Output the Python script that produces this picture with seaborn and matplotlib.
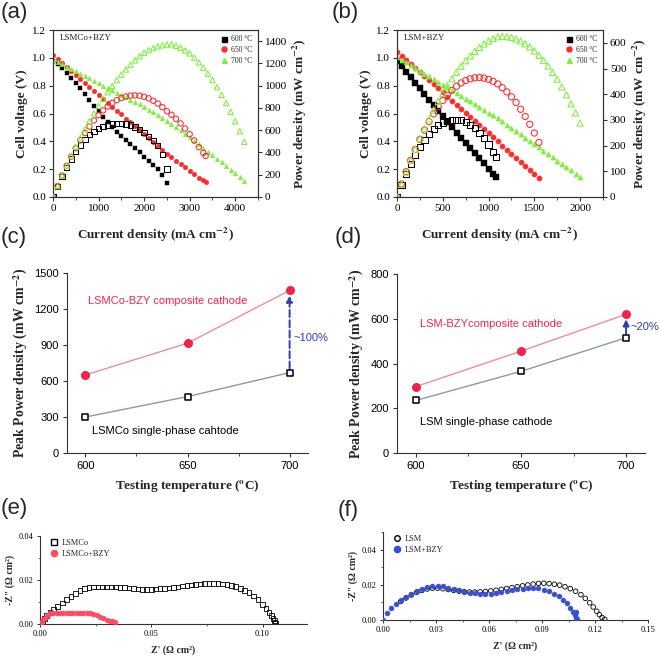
import matplotlib
matplotlib.use("Agg")
import numpy as np
import matplotlib.pyplot as plt
import seaborn as sns
from matplotlib.ticker import MultipleLocator, FormatStrFormatter
from matplotlib.lines import Line2D

# ---------------- data ----------------
# (a) LSMCo+BZY  current (mA cm-2) / voltage (V)
I600a = list(range(0, 2501, 100))
V600a = [0.98, 0.955, 0.925, 0.89, 0.855, 0.82, 0.78, 0.74, 0.70, 0.655,
         0.615, 0.575, 0.54, 0.505, 0.47, 0.44, 0.41, 0.38, 0.35, 0.32,
         0.29, 0.26, 0.23, 0.20, 0.16, 0.10]
I650a = list(range(0, 3301, 100)) + [3350]
V650a = [1.020, 0.992, 0.963, 0.935, 0.906, 0.878, 0.849, 0.821, 0.792, 0.764,
         0.735, 0.707, 0.678, 0.650, 0.621, 0.593, 0.564, 0.536, 0.507, 0.479,
         0.450, 0.422, 0.393, 0.365, 0.336, 0.308, 0.284, 0.260, 0.236, 0.212,
         0.188, 0.164, 0.140, 0.120, 0.110]
I700a = list(range(0, 4201, 100))
V700a = [0.988, 0.971, 0.954, 0.937, 0.920, 0.903, 0.886, 0.869, 0.852, 0.835,
         0.818, 0.801, 0.784, 0.767, 0.750, 0.733, 0.716, 0.699, 0.682, 0.665,
         0.648, 0.628, 0.608, 0.588, 0.568, 0.548, 0.528, 0.503, 0.479, 0.454,
         0.430, 0.404, 0.378, 0.352, 0.326, 0.300, 0.274, 0.248, 0.222, 0.196,
         0.170, 0.144, 0.118]

# (b) LSM+BZY
I600b = list(range(0, 1051, 50)) + [1080]
V600b = [0.98, 0.94, 0.90, 0.86, 0.82, 0.78, 0.74, 0.70, 0.66, 0.62, 0.58, 0.54,
         0.50, 0.463, 0.426, 0.389, 0.352, 0.315, 0.278, 0.241, 0.204, 0.167, 0.145]
I650b = list(range(0, 1551, 50))
V650b = [1.043, 1.014, 0.985, 0.955, 0.926, 0.897, 0.868, 0.838, 0.809, 0.780,
         0.751, 0.721, 0.692, 0.663, 0.634, 0.604, 0.575, 0.546, 0.517, 0.487,
         0.458, 0.429, 0.400, 0.370, 0.341, 0.312, 0.283, 0.253, 0.224, 0.195,
         0.166, 0.137]
I700b = list(range(0, 2001, 50))
V700b = [1.007, 0.987, 0.967, 0.947, 0.927, 0.907, 0.887, 0.867, 0.847, 0.827,
         0.807, 0.787, 0.767, 0.747, 0.727, 0.707, 0.687, 0.667, 0.647, 0.627,
         0.607, 0.587, 0.567, 0.544, 0.520, 0.497, 0.473, 0.450, 0.426, 0.403,
         0.379, 0.356, 0.332, 0.309, 0.285, 0.262, 0.238, 0.215, 0.191, 0.168,
         0.144]
temp_labels = ["600 \u00b0C", "650 \u00b0C", "700 \u00b0C"]

# (c)/(d) peak power density
temps = [600, 650, 700]
ppd_lsmco_bzy = [650, 915, 1355]
ppd_lsmco = [300, 470, 670]
ppd_lsm_bzy = [297, 455, 620]
ppd_lsm = [235, 365, 515]

# (e) impedance LSMCo / LSMCo+BZY
zr_lsmco = [0.0005, 0.001, 0.002, 0.003, 0.0045, 0.006, 0.008, 0.010, 0.012, 0.014,
            0.016, 0.018, 0.020, 0.022, 0.024, 0.026, 0.028, 0.030, 0.032, 0.034,
            0.036, 0.038, 0.040, 0.042, 0.044, 0.046, 0.048, 0.050, 0.052, 0.054,
            0.056, 0.058, 0.060, 0.062, 0.064, 0.066, 0.068, 0.070, 0.072, 0.074,
            0.076, 0.078, 0.080, 0.082, 0.084, 0.086, 0.088, 0.090, 0.092, 0.094,
            0.096, 0.098, 0.100, 0.1015, 0.103, 0.104, 0.1048, 0.1053, 0.1056, 0.1058]
zi_lsmco = [0.0003, 0.0012, 0.0025, 0.0038, 0.0052, 0.0065, 0.0080, 0.0095, 0.0110, 0.0125,
            0.0140, 0.0152, 0.0162, 0.0166, 0.0168, 0.0169, 0.0169, 0.0169, 0.0169, 0.0168,
            0.0167, 0.0165, 0.0163, 0.0161, 0.0159, 0.0158, 0.0157, 0.0158, 0.0159, 0.0160,
            0.0162, 0.0164, 0.0166, 0.0169, 0.0172, 0.0175, 0.0177, 0.0180, 0.0182, 0.0184,
            0.0185, 0.0185, 0.0184, 0.0182, 0.0179, 0.0175, 0.0170, 0.0162, 0.0153, 0.0142,
            0.0128, 0.0110, 0.0088, 0.0070, 0.0052, 0.0038, 0.0026, 0.0016, 0.0008, 0.0002]
zr_lsmco_bzy = [0.0003, 0.0008, 0.0015, 0.0025, 0.0035, 0.0045, 0.006, 0.0075, 0.009,
                0.0105, 0.012, 0.0135, 0.015, 0.0165, 0.018, 0.0195, 0.021, 0.0225,
                0.024, 0.0255, 0.027, 0.0285, 0.030, 0.0315, 0.0325, 0.0335]
zi_lsmco_bzy = [0.0003, 0.0012, 0.0022, 0.0033, 0.0042, 0.0048, 0.0050, 0.0051, 0.0051,
                0.0050, 0.0050, 0.0050, 0.0051, 0.0051, 0.0052, 0.0052, 0.0051, 0.0049,
                0.0046, 0.0041, 0.0034, 0.0027, 0.0020, 0.0015, 0.0012, 0.0010]

# (f) impedance LSM / LSM+BZY
zr_lsm = [0.010, 0.013, 0.016, 0.019, 0.022, 0.025, 0.028, 0.031, 0.034, 0.037,
          0.040, 0.043, 0.046, 0.049, 0.052, 0.055, 0.058, 0.061, 0.064, 0.067,
          0.070, 0.073, 0.076, 0.079, 0.082, 0.085, 0.088, 0.091, 0.094, 0.097,
          0.100, 0.103, 0.106, 0.109, 0.112, 0.1145, 0.117, 0.119, 0.121, 0.1225,
          0.124, 0.1255]
zi_lsm = [0.0105, 0.0125, 0.0142, 0.0157, 0.0168, 0.0176, 0.0180, 0.0181, 0.0178, 0.0173,
          0.0168, 0.0164, 0.0161, 0.0159, 0.0159, 0.0160, 0.0162, 0.0165, 0.0169, 0.0174,
          0.0179, 0.0184, 0.0189, 0.0194, 0.0199, 0.0204, 0.0208, 0.0209, 0.0207, 0.0203,
          0.0198, 0.0189, 0.0178, 0.0163, 0.0144, 0.0123, 0.0098, 0.0074, 0.0050, 0.0030,
          0.0014, 0.0004]
zr_lsm_bzy = [0.0, 0.0023, 0.0047, 0.0075, 0.0104, 0.0132, 0.016, 0.019, 0.022, 0.025,
              0.028, 0.031, 0.034, 0.037, 0.040, 0.043, 0.046, 0.049, 0.052, 0.055,
              0.058, 0.061, 0.064, 0.067, 0.070, 0.073, 0.076, 0.079, 0.082, 0.085,
              0.088, 0.091, 0.094, 0.097, 0.0995, 0.102, 0.104, 0.106, 0.1075, 0.1085,
              0.109, 0.1095, 0.110]
zi_lsm_bzy = [0.0, 0.0042, 0.0067, 0.0091, 0.0114, 0.0133, 0.0148, 0.0162, 0.0175, 0.0186,
              0.0192, 0.0195, 0.0191, 0.0183, 0.0175, 0.0168, 0.0161, 0.0156, 0.0152, 0.0149,
              0.0148, 0.0149, 0.0152, 0.0157, 0.0163, 0.0169, 0.0174, 0.0178, 0.0181, 0.0182,
              0.0179, 0.0172, 0.0162, 0.0150, 0.0134, 0.0115, 0.0094, 0.0070, 0.0048, 0.0028,
              0.0047, 0.0014, 0.0004]

# ---------------- style ----------------
sns.set_theme(style="ticks")
SERIF = ["Liberation Serif", "DejaVu Serif"]
SANS = ["Liberation Sans", "DejaVu Sans"]
plt.rcParams["font.family"] = SERIF
plt.rcParams["mathtext.fontset"] = "stix"
plt.rcParams["axes.edgecolor"] = "#333333"
plt.rcParams["axes.linewidth"] = 0.8
plt.rcParams["xtick.color"] = "#333333"
plt.rcParams["ytick.color"] = "#333333"
plt.rcParams["xtick.labelcolor"] = "black"
plt.rcParams["ytick.labelcolor"] = "black"

BLACK = "#000000"
RED = "#ff2a2a"
GREEN = "#7df03a"
PINK = "#f58a9c"
GRAY = "#8a99a8"
CRED = "#ff1f4b"
BLUE = "#2f3db5"

W, H = 661, 657
fig = plt.figure(figsize=(W / 100, H / 100), dpi=100)


def add_ax(l, t, r, b):
    return fig.add_axes([l / W, 1 - b / H, (r - l) / W, (b - t) / H])


axA = add_ax(53, 30, 258, 197)
axB = add_ax(397, 30, 603, 197)
axC = add_ax(67, 273, 308, 453)
axD = add_ax(397, 274, 645, 453)
axE = add_ax(40, 536, 307, 624)
axF = add_ax(383, 532, 648, 620)


def jv_panel(ax, curves, xmax, xmaj, xmin, pmax, pstep, ptop, name, sV, sP):
    ax2 = ax.twinx()
    handles = []
    for (I, V), col, mk, lab in zip(curves, [BLACK, RED, GREEN], ["s", "o", "^"], temp_labels):
        I = np.asarray(I, float)
        V = np.asarray(V, float)
        P = I * V
        sns.scatterplot(x=I, y=V, ax=ax, marker=mk, s=sV, color=col,
                        edgecolor=col, linewidth=0.3, legend=False, zorder=3)
        sns.scatterplot(x=I, y=P, ax=ax2, marker=mk, s=sP, color=col,
                        facecolor="none", edgecolor=col, linewidth=0.75,
                        legend=False, zorder=3)
        handles.append(Line2D([], [], ls="none", marker=mk, color=col,
                              markersize=4, label=lab))
    ax.set_xlim(0, xmax)
    ax.set_ylim(0, 1.2)
    ax2.set_ylim(0, pmax)
    ax.xaxis.set_major_locator(MultipleLocator(xmaj))
    ax.xaxis.set_minor_locator(MultipleLocator(xmin))
    ax.yaxis.set_major_locator(MultipleLocator(0.2))
    ax.yaxis.set_major_formatter(FormatStrFormatter("%.1f"))
    ax2.set_yticks(np.arange(0, ptop + 1, pstep))
    for a in (ax, ax2):
        a.tick_params(labelsize=8, length=3, width=0.8, direction="out", pad=2)
        a.tick_params(which="minor", length=2, width=0.6)
        a.set_xlabel("")
        a.set_ylabel("")
    ax.set_xlabel(r"Current density (mA cm$^{\mathbf{-2}}$)", fontsize=9.5,
                  fontweight="bold", labelpad=9)
    ax.set_ylabel("Cell voltage (V)", fontsize=9.5, fontweight="bold", labelpad=3)
    ax2.set_ylabel(r"Power density (mW cm$^{\mathbf{-2}}$)", fontsize=9.5,
                   fontweight="bold", labelpad=3)
    ax.text(0.035, 0.95, name, transform=ax.transAxes, fontsize=6.5,
            va="center", ha="left")
    ax2.legend(handles=handles, loc="upper right", frameon=False, fontsize=5.5,
               handlelength=0.8, handletextpad=0.6, labelspacing=0.35,
               borderaxespad=0.3, markerscale=0.9)


jv_panel(axA, [(I600a, V600a), (I650a, V650a), (I700a, V700a)],
         4500, 1000, 500, 1500, 200, 1400, "LSMCo+BZY", 11, 15)
jv_panel(axB, [(I600b, V600b), (I650b, V650b), (I700b, V700b)],
         2250, 500, 250, 650, 100, 600, "LSM+BZY", 14, 20)


def ppd_panel(ax, comp, single, ymax, ystep, comp_text, comp_pos,
              single_text, single_pos, pct_text, pct_pos, dashed):
    sns.lineplot(x=temps, y=comp, ax=ax, color=PINK, lw=1, zorder=2)
    sns.lineplot(x=temps, y=single, ax=ax, color=GRAY, lw=1, zorder=2)
    sns.scatterplot(x=temps, y=comp, ax=ax, marker="o", s=34, color=CRED,
                    edgecolor="#d0102a", linewidth=0.5, legend=False, zorder=4)
    sns.scatterplot(x=temps, y=single, ax=ax, marker="s", s=22, color=BLACK,
                    facecolor="white", edgecolor=BLACK, linewidth=1.1,
                    legend=False, zorder=4)
    ax.set_xlim(591, 709)
    ax.set_ylim(0, ymax)
    ax.set_xticks(temps, labels=[str(t) for t in temps], fontsize=8,
                  fontfamily=SANS)
    ax.xaxis.set_minor_locator(MultipleLocator(25))
    yt = list(range(0, ymax + 1, ystep))
    ax.set_yticks(yt, labels=[str(v) for v in yt], fontsize=8, fontfamily=SANS)
    ax.tick_params(length=3, width=0.8, direction="out", pad=3)
    ax.tick_params(which="minor", length=2, width=0.6)
    sns.despine(ax=ax)
    ax.set_xlabel(r"Testing temperature ($^{\mathbf{o}}$C)", fontsize=9.5,
                  fontweight="bold", labelpad=5)
    ax.set_ylabel(r"Peak Power density (mW cm$^{\mathbf{-2}}$)", fontsize=10,
                  fontweight="bold", labelpad=3)
    ax.text(comp_pos[0], comp_pos[1], comp_text, color=CRED, fontsize=8,
            fontfamily=SANS, va="center", ha="left")
    ax.text(single_pos[0], single_pos[1], single_text, color=BLACK, fontsize=8,
            fontfamily=SANS, va="center", ha="left")
    gap = ymax * 0.022
    ax.annotate("", xy=(temps[-1], comp[-1] - gap * 1.3),
                xytext=(temps[-1], single[-1] + gap),
                arrowprops=dict(arrowstyle="-|>", color=BLUE, lw=1.4,
                                linestyle="--" if dashed else "-",
                                mutation_scale=9, shrinkA=0, shrinkB=0),
                zorder=3)
    ax.text(pct_pos[0], pct_pos[1], pct_text, color=BLUE, fontsize=8,
            fontfamily=SANS, va="center", ha="left")


ppd_panel(axC, ppd_lsmco_bzy, ppd_lsmco, 1500, 300,
          "LSMCo-BZY composite cathode", (601.5, 1265),
          "LSMCo single-phase cahtode", (603, 185),
          "~100%", (702, 960), True)
ppd_panel(axD, ppd_lsm_bzy, ppd_lsm, 800, 200,
          "LSM-BZYcomposite cathode", (602, 575),
          "LSM single-phase cathode", (602, 140),
          "~20%", (702, 565), False)


def eis_panel(ax, xmax, xstep, ymax, s1, s2, lab1, lab2, mk1, col2):
    zr1, zi1 = s1
    zr2, zi2 = s2
    sns.scatterplot(x=zr1, y=zi1, ax=ax, marker=mk1, s=11, color=BLACK,
                    facecolor="none", edgecolor=BLACK, linewidth=0.6,
                    legend=False, zorder=3)
    sns.scatterplot(x=zr2, y=zi2, ax=ax, marker="o", s=13, color=col2,
                    edgecolor=col2, linewidth=0.3, legend=False, zorder=4)
    ax.set_xlim(0, xmax)
    ax.set_ylim(0, ymax)
    xt = np.arange(0, xmax + 1e-9, xstep)
    ax.set_xticks(xt)
    ax.set_yticks([0, 0.02, 0.04])
    ax.xaxis.set_major_formatter(FormatStrFormatter("%.2f"))
    ax.yaxis.set_major_formatter(FormatStrFormatter("%.2f"))
    ax.xaxis.set_minor_locator(MultipleLocator(xstep / 2))
    ax.yaxis.set_minor_locator(MultipleLocator(0.01))
    ax.tick_params(labelsize=6, length=2.5, width=0.7, direction="out", pad=2)
    ax.tick_params(which="minor", length=1.5, width=0.5)
    sns.despine(ax=ax)
    ax.set_xlabel("Z' (\u03a9 cm\u00b2)", fontsize=7, fontweight="bold", labelpad=5)
    ax.set_ylabel('-Z" (\u03a9 cm\u00b2)', fontsize=7, fontweight="bold", labelpad=3)
    h = [Line2D([], [], ls="none", marker=mk1, markerfacecolor="none",
                markeredgecolor=BLACK, markersize=4, label=lab1),
         Line2D([], [], ls="none", marker="o", color=col2, markersize=4.5,
                label=lab2)]
    ax.legend(handles=h, loc="upper left", bbox_to_anchor=(0.02, 1.02),
              frameon=False, fontsize=6, handlelength=0.8, handletextpad=0.6,
              labelspacing=0.3, borderaxespad=0.2)


eis_panel(axE, 0.12, 0.05, 0.04, (zr_lsmco, zi_lsmco),
          (zr_lsmco_bzy, zi_lsmco_bzy), "LSMCo", "LSMCo+BZY", "s", "#ff4a66")
eis_panel(axF, 0.15, 0.03, 0.05, (zr_lsm, zi_lsm),
          (zr_lsm_bzy, zi_lsm_bzy), "LSM", "LSM+BZY", "o", "#3a4fd0")

# panel letters
for lab, x, y in [("(a)", 1, 2), ("(b)", 332, 2), ("(c)", 1, 227),
                  ("(d)", 335, 227), ("(e)", 1, 498), ("(f)", 338, 500)]:
    fig.text(x / W, 1 - y / H, lab, fontsize=16, fontfamily=SANS,
             va="top", ha="left")

fig.savefig("out.png", dpi=100)
